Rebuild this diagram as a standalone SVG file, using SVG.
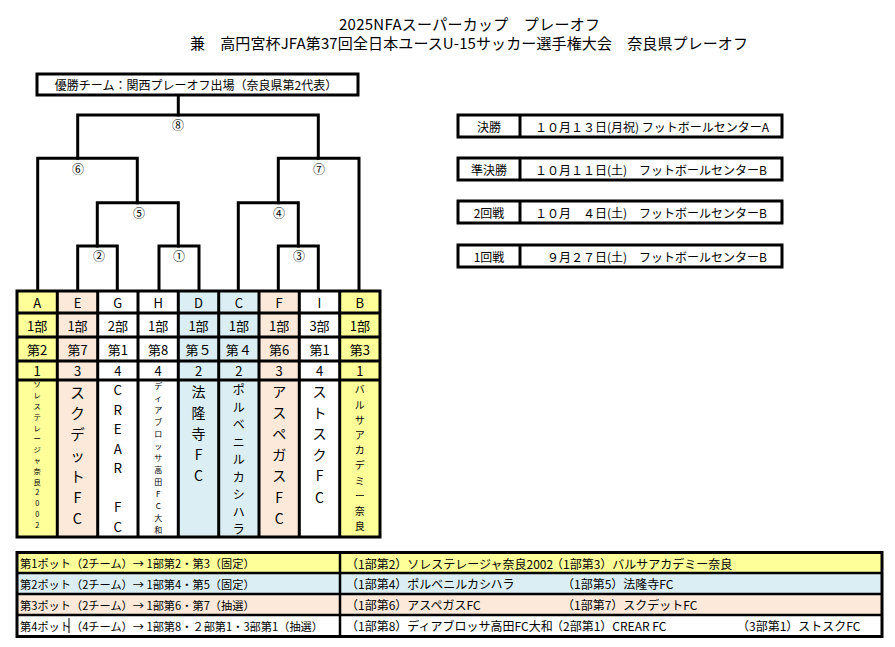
<svg xmlns="http://www.w3.org/2000/svg" width="895" height="647" viewBox="0 0 895 647">
<style>
text{font-family:"Noto Sans CJK JP","Noto Sans",sans-serif;fill:#000}
.t13{font-size:13px;text-anchor:middle;dominant-baseline:central}
.lbl{font-size:12px;text-anchor:middle;dominant-baseline:central}
.v{text-anchor:middle;dominant-baseline:central}
.br{fill:none;stroke:#000;stroke-width:3;stroke-linecap:square;stroke-linejoin:miter}
.box{fill:#fff;stroke:#000;stroke-width:3}
.grid{fill:none;stroke:#000;stroke-width:3}
.sch{font-size:12px;dominant-baseline:central}
.pot{font-size:11.2px;dominant-baseline:central}
.pot2{font-size:12px;dominant-baseline:central}
.y{fill:#FFFF99}.b{fill:#DAEEF3}.p{fill:#FDE9D9}.w{fill:#FFFFFF}
</style>
<rect width="895" height="647" fill="#fff"/>
<g id="title">
<text x="339" y="23" style="font-size:15px;dominant-baseline:central" textLength="261" lengthAdjust="spacing">2025NFAスーパーカップ　プレーオフ</text>
<text x="190" y="42" style="font-size:15px;dominant-baseline:central" textLength="558" lengthAdjust="spacing">兼　高円宮杯JFA第37回全日本ユースU-15サッカー選手権大会　奈良県プレーオフ</text>
</g>
<g id="connectors">
<path class="br" d="M178.3 95V115"/>
<path class="br" d="M77.7 158.3V115H318.3V158.3"/>
<path class="br" d="M37.7 291V158.3H137.3V202.7"/>
<path class="br" d="M97.3 246V202.7H178.3V246"/>
<path class="br" d="M77.7 291V246H117.3V291"/>
<path class="br" d="M159 291V246H199V291"/>
<path class="br" d="M278.3 202.7V158.3H359V291"/>
<path class="br" d="M238.3 291V202.7H298.3V246"/>
<path class="br" d="M278.3 291V246H318.3V291"/>
</g>
<g id="winner">
<rect class="box" x="37" y="74" width="321" height="21"/>
<text x="196" y="84.5" style="font-size:12px;text-anchor:middle;dominant-baseline:central">優勝チーム：関西プレーオフ出場（奈良県第2代表）</text>
</g>
<g id="match8"><text class="lbl" x="178" y="124">⑧</text></g>
<g id="match6"><text class="lbl" x="78" y="168">⑥</text></g>
<g id="match7"><text class="lbl" x="319" y="168">⑦</text></g>
<g id="match5"><text class="lbl" x="139" y="212">⑤</text></g>
<g id="match4"><text class="lbl" x="279" y="212">④</text></g>
<g id="match2"><text class="lbl" x="99" y="255">②</text></g>
<g id="match1"><text class="lbl" x="179" y="255">①</text></g>
<g id="match3"><text class="lbl" x="299" y="255">③</text></g>

<g id="team-A">
<rect class="y" x="17" y="291" width="40.3" height="246"/>
<text class="t13" x="37.2" y="302">A</text><text class="t13" x="37.2" y="325">1部</text><text class="t13" x="37.2" y="349">第2</text><text class="t13" x="37.2" y="370.5">1</text>
<text class="v" style="font-size:7.3px"><tspan x="37.2" y="384.3">ソ</tspan><tspan x="37.2" y="395.1">レ</tspan><tspan x="37.2" y="405.9">ス</tspan><tspan x="37.2" y="416.7">テ</tspan><tspan x="37.2" y="427.5">レ</tspan><tspan x="37.2" y="438.3">ー</tspan><tspan x="37.2" y="449.1">ジ</tspan><tspan x="37.2" y="459.9">ャ</tspan><tspan x="37.2" y="470.7">奈</tspan><tspan x="37.2" y="481.5">良</tspan><tspan x="37.2" y="492.3">2</tspan><tspan x="37.2" y="503.1">0</tspan><tspan x="37.2" y="513.9">0</tspan><tspan x="37.2" y="524.7">2</tspan></text>
</g>
<g id="team-E">
<rect class="p" x="57.3" y="291" width="40.3" height="246"/>
<text class="t13" x="77.5" y="302">E</text><text class="t13" x="77.5" y="325">1部</text><text class="t13" x="77.5" y="349">第7</text><text class="t13" x="77.5" y="370.5">3</text>
<text class="v" style="font-size:14.5px"><tspan x="77.5" y="391">ス</tspan><tspan x="77.5" y="412">ク</tspan><tspan x="77.5" y="433">デ</tspan><tspan x="77.5" y="454">ッ</tspan><tspan x="77.5" y="475">ト</tspan><tspan x="77.5" y="496">F</tspan><tspan x="77.5" y="517">C</tspan></text>
</g>
<g id="team-G">
<rect class="w" x="97.7" y="291" width="40.3" height="246"/>
<text class="t13" x="117.8" y="302">G</text><text class="t13" x="117.8" y="325">2部</text><text class="t13" x="117.8" y="349">第1</text><text class="t13" x="117.8" y="370.5">4</text>
<text class="v" style="font-size:13.4px"><tspan x="117.8" y="389">C</tspan><tspan x="117.8" y="408.5">R</tspan><tspan x="117.8" y="428">E</tspan><tspan x="117.8" y="447.5">A</tspan><tspan x="117.8" y="467">R</tspan><tspan x="117.8" y="506">F</tspan><tspan x="117.8" y="525.5">C</tspan></text>
</g>
<g id="team-H">
<rect class="w" x="138" y="291" width="40.3" height="246"/>
<text class="t13" x="158.2" y="302">H</text><text class="t13" x="158.2" y="325">1部</text><text class="t13" x="158.2" y="349">第8</text><text class="t13" x="158.2" y="370.5">4</text>
<text class="v" style="font-size:8px"><tspan x="158.2" y="385">デ</tspan><tspan x="158.2" y="397">ィ</tspan><tspan x="158.2" y="409">ア</tspan><tspan x="158.2" y="421">ブ</tspan><tspan x="158.2" y="433">ロ</tspan><tspan x="158.2" y="445">ッ</tspan><tspan x="158.2" y="457">サ</tspan><tspan x="158.2" y="469">高</tspan><tspan x="158.2" y="481">田</tspan><tspan x="158.2" y="493">F</tspan><tspan x="158.2" y="505">C</tspan><tspan x="158.2" y="517">大</tspan><tspan x="158.2" y="529">和</tspan></text>
</g>
<g id="team-D">
<rect class="b" x="178.3" y="291" width="40.3" height="246"/>
<text class="t13" x="198.5" y="302">D</text><text class="t13" x="198.5" y="325">1部</text><text class="t13" x="198.5" y="349">第５</text><text class="t13" x="198.5" y="370.5">2</text>
<text class="v" style="font-size:14px"><tspan x="198.5" y="391">法</tspan><tspan x="198.5" y="412">隆</tspan><tspan x="198.5" y="433">寺</tspan><tspan x="198.5" y="454">F</tspan><tspan x="198.5" y="475">C</tspan></text>
</g>
<g id="team-C">
<rect class="b" x="218.7" y="291" width="40.3" height="246"/>
<text class="t13" x="238.8" y="302">C</text><text class="t13" x="238.8" y="325">1部</text><text class="t13" x="238.8" y="349">第４</text><text class="t13" x="238.8" y="370.5">2</text>
<text class="v" style="font-size:12px"><tspan x="238.8" y="388.3">ポ</tspan><tspan x="238.8" y="405.8">ル</tspan><tspan x="238.8" y="423.3">ベ</tspan><tspan x="238.8" y="440.8">ニ</tspan><tspan x="238.8" y="458.3">ル</tspan><tspan x="238.8" y="475.8">カ</tspan><tspan x="238.8" y="493.3">シ</tspan><tspan x="238.8" y="510.8">ハ</tspan><tspan x="238.8" y="528.3">ラ</tspan></text>
</g>
<g id="team-F">
<rect class="p" x="259" y="291" width="40.3" height="246"/>
<text class="t13" x="279.2" y="302">F</text><text class="t13" x="279.2" y="325">1部</text><text class="t13" x="279.2" y="349">第6</text><text class="t13" x="279.2" y="370.5">3</text>
<text class="v" style="font-size:14px"><tspan x="279.2" y="391">ア</tspan><tspan x="279.2" y="412">ス</tspan><tspan x="279.2" y="433">ペ</tspan><tspan x="279.2" y="454">ガ</tspan><tspan x="279.2" y="475">ス</tspan><tspan x="279.2" y="496.5">F</tspan><tspan x="279.2" y="518">C</tspan></text>
</g>
<g id="team-I">
<rect class="w" x="299.3" y="291" width="40.3" height="246"/>
<text class="t13" x="319.5" y="302">I</text><text class="t13" x="319.5" y="325">3部</text><text class="t13" x="319.5" y="349">第1</text><text class="t13" x="319.5" y="370.5">4</text>
<text class="v" style="font-size:14px"><tspan x="319.5" y="391">ス</tspan><tspan x="319.5" y="412">ト</tspan><tspan x="319.5" y="433">ス</tspan><tspan x="319.5" y="454">ク</tspan><tspan x="319.5" y="475">F</tspan><tspan x="319.5" y="496.5">C</tspan></text>
</g>
<g id="team-B">
<rect class="y" x="339.7" y="291" width="40.3" height="246"/>
<text class="t13" x="359.8" y="302">B</text><text class="t13" x="359.8" y="325">1部</text><text class="t13" x="359.8" y="349">第3</text><text class="t13" x="359.8" y="370.5">1</text>
<text class="v" style="font-size:10px"><tspan x="359.8" y="388.3">バ</tspan><tspan x="359.8" y="403.5">ル</tspan><tspan x="359.8" y="418.7">サ</tspan><tspan x="359.8" y="433.9">ア</tspan><tspan x="359.8" y="449.1">カ</tspan><tspan x="359.8" y="464.3">デ</tspan><tspan x="359.8" y="479.5">ミ</tspan><tspan x="359.8" y="494.7">ー</tspan><tspan x="359.8" y="509.9">奈</tspan><tspan x="359.8" y="525.1">良</tspan></text>
</g>
<g id="team-grid">
<rect class="grid" x="17" y="291" width="363" height="246"/>
<path class="grid" d="M57.3 291V537M97.7 291V537M138 291V537M178.3 291V537M218.7 291V537M259 291V537M299.3 291V537M339.7 291V537M17 313H380M17 337H380M17 361H380M17 380H380"/>
</g>

<g id="schedule-final">
<rect class="box" x="458" y="115" width="324" height="22"/>
<path class="grid" d="M520 115V137"/>
<text class="sch" x="489" y="126" text-anchor="middle">決勝</text>
<text class="sch" x="535" y="126">１０月１３日(月祝) フットボールセンターA</text>
</g>
<g id="schedule-semi">
<rect class="box" x="458" y="158" width="324" height="22"/>
<path class="grid" d="M520 158V180"/>
<text class="sch" x="489" y="169" text-anchor="middle">準決勝</text>
<text class="sch" x="535" y="169">１０月１１日(土)　フットボールセンターB</text>
</g>
<g id="schedule-round2">
<rect class="box" x="458" y="201" width="324" height="22"/>
<path class="grid" d="M520 201V223"/>
<text class="sch" x="489" y="212" text-anchor="middle">2回戦</text>
<text class="sch" x="535" y="212">１０月　４日(土)　フットボールセンターB</text>
</g>
<g id="schedule-round1">
<rect class="box" x="458" y="245" width="324" height="22"/>
<path class="grid" d="M520 245V267"/>
<text class="sch" x="489" y="256" text-anchor="middle">1回戦</text>
<text class="sch" x="535" y="256">　９月２７日(土)　フットボールセンターB</text>
</g>

<g id="pot-table">
<rect class="y" x="17" y="552.5" width="865" height="20.5"/>
<rect class="b" x="17" y="573" width="865" height="21"/>
<rect class="p" x="17" y="594" width="865" height="21"/>
<rect class="w" x="17" y="615" width="865" height="21.5"/>
<rect class="grid" x="17" y="552.5" width="865" height="84"/>
<path class="grid" style="stroke-width:2.5" d="M17 573H882M17 594H882M17 615H882M340 552.5V636.5"/>
<text class="pot" x="20" y="563">第1ポット（2チーム）→ 1部第2・第3（固定）</text>
<text class="pot" x="20" y="583.5">第2ポット（2チーム）→ 1部第4・第5（固定）</text>
<text class="pot" x="20" y="604.5">第3ポット（2チーム）→ 1部第6・第7（抽選）</text>
<text class="pot" x="20" y="625.5">第4ポット（4チーム）→ 1部第8・２部第1・3部第1（抽選）</text>
<path d="M69 618V633" stroke="#000" stroke-width="1"/>
<text class="pot2" x="346" y="563">（1部第2）ソレステレージャ奈良2002</text>
<text class="pot2" x="551" y="563">（1部第3）バルサアカデミー奈良</text>
<text class="pot2" x="346" y="583.5">（1部第4）ポルベニルカシハラ</text>
<text class="pot2" x="562" y="583.5">（1部第5）法隆寺FC</text>
<text class="pot2" x="346" y="604.5">（1部第6）アスペガスFC</text>
<text class="pot2" x="562" y="604.5">（1部第7）スクデットFC</text>
<text class="pot2" x="346" y="625.5">（1部第8）ディアブロッサ高田FC大和</text>
<text class="pot2" x="551" y="625.5">（2部第1）CREAR FC</text>
<text class="pot2" x="737" y="625.5">（3部第1）ストスクFC</text>
</g>
</svg>
